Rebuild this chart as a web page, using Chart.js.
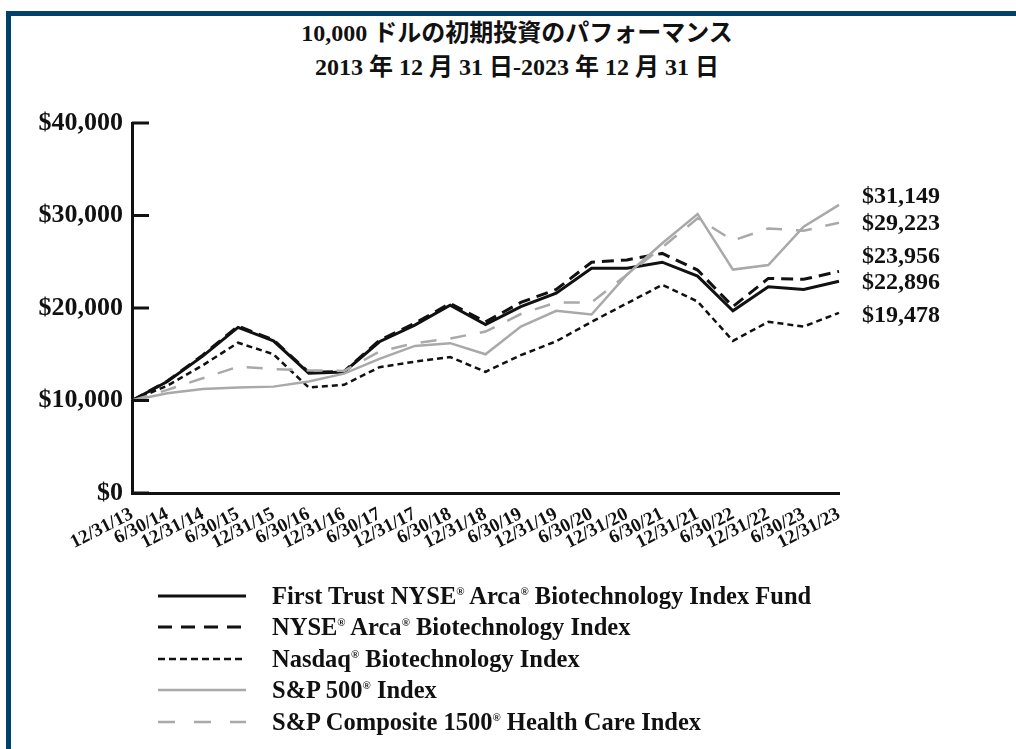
<!DOCTYPE html>
<html>
<head>
<meta charset="utf-8">
<script src="https://cdn.jsdelivr.net/npm/chart.js@4"></script>
<style>
  body { margin: 0; background: #fff; width: 1016px; height: 749px; overflow: hidden; position: relative; }
  #frame { position: absolute; left: 6px; top: 11px; right: -10px; bottom: -10px; border-left: 5px solid #00416b; border-top: 5px solid #00416b; }
  #title { position: absolute; left: 0; width: 1034px; top: 16px; text-align: center;
           font: bold 24px "Liberation Serif", "Noto Sans CJK JP", serif; line-height: 34px; color: #111; }
  #wrap { position: absolute; left: 0; top: 0; width: 1016px; height: 749px; }
  #legend { position: absolute; left: 158px; top: 580px; font: bold 24.5px "Liberation Serif", serif; color: #111; }
  .row { height: 31.5px; display: flex; align-items: center; }
  .row svg { width: 88px; height: 10px; margin-right: 26px; }
  sup { font-size: 0.45em; vertical-align: 0.8em; }
</style>
</head>
<body>
<div id="frame"></div>
<div id="title">10,000 ドルの初期投資のパフォーマンス<br>2013 年 12 月 31 日-2023 年 12 月 31 日</div>
<div id="wrap"><canvas id="chart"></canvas></div>
<div id="legend"></div>

<script>
// 日期标签
const dates = ['12/31/13', '6/30/14', '12/31/14', '6/30/15', '12/31/15', '6/30/16', '12/31/16',
  '6/30/17', '12/31/17', '6/30/18', '12/31/18', '6/30/19', '12/31/19', '6/30/20', '12/31/20',
  '6/30/21', '12/31/21', '6/30/22', '12/31/22', '6/30/23', '12/31/23'];

// 各系列数值
const fundValues = [10000, 12050, 14800, 17900, 16450, 12950, 13080, 16350, 18150, 20300, 18200,
  20150, 21600, 24300, 24300, 24950, 23450, 19700, 22300, 22000, 22896];
const nyseArcaValues = [10000, 12100, 14900, 18050, 16550, 13050, 13150, 16500, 18350, 20500, 18500,
  20600, 22000, 24950, 25200, 25900, 24100, 20150, 23200, 23100, 23956];
const nasdaqValues = [10000, 11600, 13800, 16250, 15000, 11400, 11700, 13600, 14200, 14700, 13100,
  14900, 16400, 18500, 20500, 22500, 20700, 16450, 18500, 18000, 19478];
const sp500Values = [10000, 10780, 11240, 11400, 11500, 12050, 12900, 14500, 15900, 16200, 15000,
  18000, 19700, 19300, 23600, 27000, 30150, 24150, 24650, 28800, 31149];
const healthCareValues = [10000, 11150, 12400, 13650, 13400, 13250, 13200, 15300, 16200, 16700, 17450,
  19350, 20600, 20600, 23600, 26550, 29700, 27300, 28600, 28350, 29223];

const yTicks = [0, 10000, 20000, 30000, 40000];

const series = [
  { label: 'First Trust NYSE<sup>®</sup> Arca<sup>®</sup> Biotechnology Index Fund', data: fundValues, color: '#111', width: 3, dash: [], legendDash: '', nudge: 2 },
  { label: 'NYSE<sup>®</sup> Arca<sup>®</sup> Biotechnology Index', data: nyseArcaValues, color: '#111', width: 3, dash: [12, 7], legendDash: '14 9', nudge: -15 },
  { label: 'Nasdaq<sup>®</sup> Biotechnology Index', data: nasdaqValues, color: '#111', width: 2.5, dash: [6, 4], legendDash: '7 4', nudge: 3 },
  { label: 'S&amp;P 500<sup>®</sup> Index', data: sp500Values, color: '#a9a9a9', width: 2.5, dash: [], legendDash: '', nudge: -8 },
  { label: 'S&amp;P Composite 1500<sup>®</sup> Health Care Index', data: healthCareValues, color: '#a9a9a9', width: 2.5, dash: [16, 14], legendDash: '17 19', nudge: 1 }
];

const money = v => '$' + v.toLocaleString('en-US');

// 刻度线画在坐标轴内侧
const innerTicks = {
  id: 'innerTicks',
  afterDraw(chart) {
    const { ctx, chartArea, scales: { y } } = chart;
    ctx.save();
    ctx.strokeStyle = '#111';
    ctx.lineWidth = 3;
    y.ticks.forEach(t => {
      const py = y.getPixelForValue(t.value);
      ctx.beginPath();
      ctx.moveTo(chartArea.left, py);
      ctx.lineTo(chartArea.left + 17, py);
      ctx.stroke();
    });
    ctx.restore();
  }
};

// 右侧期末数值
const endLabels = {
  id: 'endLabels',
  afterDraw(chart) {
    const { ctx, chartArea, scales: { y } } = chart;
    ctx.save();
    ctx.font = 'bold 24px "Liberation Serif", serif';
    ctx.fillStyle = '#111';
    ctx.textBaseline = 'middle';
    series.forEach(s => {
      const last = s.data[s.data.length - 1];
      ctx.fillText(money(last), chartArea.right + 23, y.getPixelForValue(last) + s.nudge);
    });
    ctx.restore();
  }
};

new Chart(document.getElementById('chart'), {
  type: 'line',
  data: {
    labels: dates,
    datasets: series.map(s => ({
      data: s.data,
      borderColor: s.color,
      borderWidth: s.width,
      borderDash: s.dash,
      pointRadius: 0,
      tension: 0,
      fill: false
    })).reverse()
  },
  options: {
    responsive: true,
    maintainAspectRatio: false,
    animation: false,
    layout: { padding: { top: 123, right: 177, bottom: 196, left: 0 } },
    plugins: { legend: { display: false }, tooltip: { enabled: false } },
    scales: {
      x: {
        grid: { display: false },
        border: { display: true, color: '#111', width: 3 },
        afterFit(scale) { scale.height = 60; },
        ticks: {
          autoSkip: false, minRotation: 27, maxRotation: 27, padding: 2,
          color: '#111', font: { family: 'Liberation Serif', size: 19, weight: 'bold' }
        }
      },
      y: {
        min: 0, max: 40000,
        grid: { display: false, drawTicks: false },
        border: { display: true, color: '#111', width: 3 },
        afterFit(scale) { scale.width = 132; },
        afterBuildTicks(scale) { scale.ticks = yTicks.map(v => ({ value: v })); },
        ticks: {
          padding: 9, color: '#111', callback: v => money(v),
          font: { family: 'Liberation Serif', size: 26, weight: 'bold' }
        }
      }
    }
  },
  plugins: [innerTicks, endLabels]
});

// 图例
document.getElementById('legend').innerHTML = series.map(s => `
  <div class="row">
    <svg viewBox="0 0 88 10"><line x1="0" y1="5" x2="88" y2="5" stroke="${s.color}" stroke-width="${s.width}" stroke-dasharray="${s.legendDash}"/></svg>
    <span>${s.label}</span>
  </div>`).join('');
</script>
</body>
</html>
